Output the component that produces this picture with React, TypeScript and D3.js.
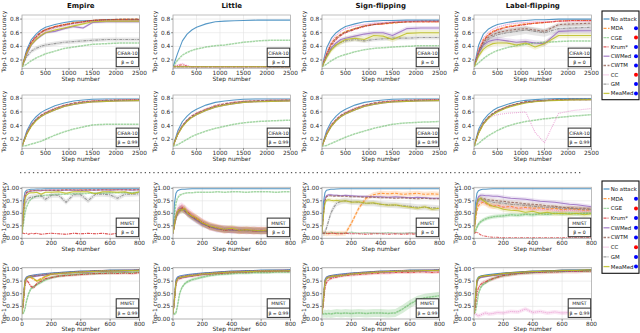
import React from 'react';
import * as d3 from 'd3';

// legend order
const seriesNames = ['No attack', 'MDA', 'CGE', 'Krum*', 'CWMed', 'CWTM', 'CC', 'GM', 'MeaMed'];
const seriesColors = ['#1f77b4', '#ff7f0e', '#2ca02c', '#d62728', '#9467bd', '#8c564b', '#e377c2', '#7f7f7f', '#bcbd22'];
const seriesDash = ['', '3,1.5', '2.5,0.5', '3,1,1,1', '', '2.5,1.5', '1,1', '3,1,1,1', ''];
const seriesOpacity = [0.75, 0.75, 0.42, 0.75, 0.8, 0.75, 0.6, 0.75, 0.85];
const legendDots = ['', 'blue', 'red', 'blue', 'blue', 'blue', 'red', 'blue', 'blue'];
const attackTitles = ['Empire', 'Little', 'Sign-flipping', 'Label-flipping'];

const cifarSteps = [0, 100, 200, 300, 400, 500, 700, 900, 1100, 1300, 1500, 1800, 2100, 2500];
const mnistSteps = [0, 10, 20, 30, 45, 60, 80, 100, 130, 160, 200, 250, 300, 350, 400, 450, 500, 550, 600, 650, 700, 750, 800];
const cifarXTicks = [0, 500, 1000, 1500, 2000, 2500];
const cifarYTicks = [0.2, 0.4, 0.6, 0.8];
const mnistXTicks = [0, 200, 400, 600, 800];
const mnistYTicks = [0, 0.25, 0.5, 0.75, 1];

// ---- CIFAR-10, beta = 0 ----
const empireCifarB0 = [
  [0.1, 0.35, 0.5, 0.58, 0.64, 0.68, 0.72, 0.75, 0.77, 0.775, 0.78, 0.79, 0.79, 0.79],
  [0.1, 0.3, 0.45, 0.53, 0.6, 0.64, 0.69, 0.72, 0.75, 0.76, 0.78, 0.79, 0.795, 0.8],
  [0.1, 0.14, 0.19, 0.23, 0.26, 0.29, 0.33, 0.37, 0.39, 0.41, 0.43, 0.44, 0.45, 0.45],
  [0.1, 0.32, 0.47, 0.55, 0.61, 0.65, 0.69, 0.72, 0.74, 0.76, 0.78, 0.79, 0.79, 0.79],
  [0.1, 0.28, 0.42, 0.5, 0.55, 0.6, 0.62, 0.66, 0.69, 0.67, 0.75, 0.76, 0.76, 0.76],
  [0.1, 0.31, 0.46, 0.54, 0.6, 0.64, 0.68, 0.71, 0.74, 0.76, 0.78, 0.79, 0.8, 0.8],
  [0.1, 0.3, 0.44, 0.53, 0.58, 0.62, 0.67, 0.7, 0.73, 0.75, 0.77, 0.78, 0.78, 0.78],
  [0.1, 0.25, 0.33, 0.37, 0.4, 0.42, 0.44, 0.46, 0.47, 0.48, 0.49, 0.5, 0.5, 0.5],
  [0.1, 0.3, 0.43, 0.5, 0.56, 0.6, 0.64, 0.67, 0.7, 0.73, 0.76, 0.77, 0.77, 0.77],
];
const littleCifarB0 = [
  [0.1, 0.3, 0.48, 0.58, 0.64, 0.68, 0.73, 0.76, 0.77, 0.775, 0.78, 0.785, 0.785, 0.785],
  [0.1, 0.1, 0.1, 0.1, 0.1, 0.1, 0.1, 0.1, 0.1, 0.1, 0.1, 0.1, 0.1, 0.1],
  [0.1, 0.2, 0.27, 0.31, 0.34, 0.36, 0.39, 0.41, 0.42, 0.44, 0.46, 0.48, 0.49, 0.49],
  [0.1, 0.12, 0.13, 0.11, 0.1, 0.1, 0.1, 0.1, 0.1, 0.1, 0.1, 0.1, 0.1, 0.1],
  [0.1, 0.1, 0.1, 0.1, 0.1, 0.1, 0.1, 0.1, 0.1, 0.1, 0.1, 0.1, 0.1, 0.1],
  [0.1, 0.1, 0.1, 0.1, 0.1, 0.1, 0.1, 0.1, 0.1, 0.1, 0.1, 0.1, 0.1, 0.1],
  [0.1, 0.13, 0.15, 0.12, 0.1, 0.1, 0.1, 0.1, 0.1, 0.1, 0.1, 0.1, 0.1, 0.1],
  [0.1, 0.1, 0.1, 0.1, 0.1, 0.1, 0.1, 0.1, 0.1, 0.1, 0.1, 0.1, 0.1, 0.1],
  [0.1, 0.1, 0.1, 0.1, 0.1, 0.1, 0.1, 0.1, 0.1, 0.1, 0.1, 0.1, 0.1, 0.1],
];
const signCifarB0 = [
  [0.1, 0.38, 0.52, 0.6, 0.65, 0.69, 0.73, 0.76, 0.77, 0.78, 0.78, 0.785, 0.785, 0.785],
  [0.1, 0.3, 0.45, 0.53, 0.58, 0.62, 0.66, 0.7, 0.72, 0.73, 0.74, 0.76, 0.76, 0.76],
  [0.1, 0.14, 0.19, 0.23, 0.26, 0.28, 0.32, 0.35, 0.37, 0.38, 0.39, 0.4, 0.41, 0.41],
  [0.1, 0.28, 0.42, 0.5, 0.56, 0.6, 0.65, 0.69, 0.72, 0.73, 0.75, 0.76, 0.76, 0.76],
  [0.1, 0.25, 0.38, 0.45, 0.5, 0.52, 0.55, 0.58, 0.6, 0.6, 0.56, 0.66, 0.67, 0.67],
  [0.1, 0.29, 0.44, 0.52, 0.57, 0.61, 0.66, 0.7, 0.72, 0.74, 0.75, 0.76, 0.77, 0.77],
  [0.1, 0.33, 0.48, 0.56, 0.62, 0.66, 0.7, 0.72, 0.74, 0.75, 0.76, 0.77, 0.77, 0.77],
  [0.1, 0.25, 0.36, 0.42, 0.46, 0.48, 0.5, 0.48, 0.5, 0.51, 0.52, 0.52, 0.53, 0.53],
  [0.1, 0.24, 0.35, 0.42, 0.46, 0.5, 0.52, 0.5, 0.56, 0.55, 0.5, 0.59, 0.6, 0.6],
];
const labelCifarB0 = [
  [0.1, 0.42, 0.58, 0.65, 0.69, 0.72, 0.75, 0.77, 0.78, 0.79, 0.79, 0.8, 0.8, 0.8],
  [0.1, 0.35, 0.5, 0.57, 0.62, 0.65, 0.69, 0.71, 0.73, 0.74, 0.75, 0.77, 0.78, 0.78],
  [0.1, 0.16, 0.22, 0.27, 0.31, 0.34, 0.38, 0.41, 0.43, 0.45, 0.46, 0.47, 0.48, 0.48],
  [0.1, 0.33, 0.48, 0.56, 0.61, 0.64, 0.68, 0.7, 0.72, 0.74, 0.75, 0.77, 0.78, 0.78],
  [0.1, 0.3, 0.42, 0.47, 0.49, 0.5, 0.48, 0.46, 0.47, 0.45, 0.44, 0.62, 0.63, 0.63],
  [0.1, 0.32, 0.46, 0.53, 0.57, 0.6, 0.63, 0.65, 0.66, 0.64, 0.62, 0.72, 0.73, 0.74],
  [0.1, 0.36, 0.52, 0.6, 0.65, 0.68, 0.72, 0.74, 0.75, 0.76, 0.76, 0.77, 0.77, 0.77],
  [0.1, 0.3, 0.43, 0.5, 0.54, 0.57, 0.6, 0.62, 0.64, 0.62, 0.6, 0.66, 0.67, 0.68],
  [0.1, 0.26, 0.36, 0.41, 0.44, 0.45, 0.45, 0.42, 0.45, 0.39, 0.44, 0.56, 0.56, 0.56],
];

// ---- CIFAR-10, beta = 0.99 ----
const empireCifarB99 = [
  [0.1, 0.32, 0.45, 0.53, 0.59, 0.63, 0.69, 0.73, 0.76, 0.775, 0.785, 0.79, 0.79, 0.79],
  [0.1, 0.29, 0.41, 0.49, 0.55, 0.59, 0.65, 0.7, 0.73, 0.75, 0.76, 0.77, 0.775, 0.78],
  [0.1, 0.11, 0.13, 0.15, 0.17, 0.2, 0.26, 0.31, 0.35, 0.38, 0.41, 0.42, 0.42, 0.42],
  [0.1, 0.28, 0.4, 0.48, 0.54, 0.58, 0.64, 0.69, 0.72, 0.74, 0.755, 0.765, 0.77, 0.775],
  [0.1, 0.28, 0.4, 0.48, 0.53, 0.57, 0.63, 0.68, 0.71, 0.73, 0.745, 0.755, 0.76, 0.765],
  [0.1, 0.29, 0.41, 0.49, 0.55, 0.59, 0.65, 0.7, 0.73, 0.75, 0.76, 0.77, 0.775, 0.78],
  [0.1, 0.29, 0.42, 0.5, 0.56, 0.6, 0.66, 0.7, 0.73, 0.75, 0.765, 0.775, 0.78, 0.78],
  [0.1, 0.28, 0.41, 0.49, 0.54, 0.58, 0.64, 0.69, 0.72, 0.74, 0.755, 0.765, 0.77, 0.77],
  [0.1, 0.27, 0.39, 0.47, 0.53, 0.57, 0.63, 0.68, 0.71, 0.73, 0.745, 0.755, 0.76, 0.765],
];
const littleCifarB99 = [
  [0.1, 0.32, 0.46, 0.54, 0.6, 0.64, 0.7, 0.74, 0.76, 0.775, 0.785, 0.79, 0.79, 0.79],
  [0.1, 0.28, 0.4, 0.48, 0.54, 0.58, 0.64, 0.69, 0.72, 0.74, 0.755, 0.765, 0.77, 0.775],
  [0.1, 0.12, 0.16, 0.2, 0.24, 0.27, 0.32, 0.36, 0.39, 0.42, 0.44, 0.46, 0.47, 0.48],
  [0.1, 0.27, 0.39, 0.47, 0.53, 0.57, 0.63, 0.68, 0.71, 0.73, 0.745, 0.755, 0.76, 0.765],
  [0.1, 0.27, 0.39, 0.47, 0.52, 0.56, 0.62, 0.67, 0.7, 0.72, 0.74, 0.75, 0.755, 0.76],
  [0.1, 0.28, 0.4, 0.48, 0.54, 0.58, 0.64, 0.69, 0.72, 0.74, 0.755, 0.765, 0.77, 0.775],
  [0.1, 0.29, 0.41, 0.49, 0.55, 0.59, 0.65, 0.7, 0.73, 0.75, 0.76, 0.77, 0.775, 0.78],
  [0.1, 0.28, 0.4, 0.48, 0.53, 0.57, 0.63, 0.68, 0.71, 0.73, 0.75, 0.76, 0.765, 0.77],
  [0.1, 0.27, 0.38, 0.46, 0.52, 0.56, 0.62, 0.67, 0.7, 0.72, 0.74, 0.75, 0.755, 0.76],
];
const signCifarB99 = [
  [0.1, 0.33, 0.46, 0.54, 0.6, 0.64, 0.7, 0.74, 0.76, 0.775, 0.785, 0.79, 0.79, 0.79],
  [0.1, 0.29, 0.41, 0.49, 0.55, 0.59, 0.65, 0.7, 0.73, 0.75, 0.76, 0.77, 0.775, 0.78],
  [0.1, 0.11, 0.14, 0.17, 0.2, 0.23, 0.28, 0.32, 0.36, 0.39, 0.42, 0.44, 0.45, 0.46],
  [0.1, 0.28, 0.4, 0.48, 0.54, 0.58, 0.64, 0.69, 0.72, 0.74, 0.755, 0.765, 0.77, 0.775],
  [0.1, 0.27, 0.39, 0.47, 0.53, 0.57, 0.63, 0.68, 0.71, 0.73, 0.745, 0.755, 0.76, 0.765],
  [0.1, 0.29, 0.41, 0.49, 0.55, 0.59, 0.65, 0.7, 0.73, 0.75, 0.76, 0.77, 0.775, 0.78],
  [0.1, 0.3, 0.42, 0.5, 0.56, 0.6, 0.66, 0.7, 0.73, 0.75, 0.765, 0.775, 0.78, 0.78],
  [0.1, 0.28, 0.4, 0.48, 0.54, 0.58, 0.64, 0.69, 0.72, 0.74, 0.75, 0.76, 0.77, 0.77],
  [0.1, 0.27, 0.39, 0.47, 0.53, 0.57, 0.63, 0.68, 0.71, 0.73, 0.745, 0.755, 0.76, 0.765],
];
const labelCifarB99 = [
  [0.1, 0.35, 0.48, 0.56, 0.62, 0.66, 0.71, 0.75, 0.77, 0.78, 0.79, 0.795, 0.795, 0.795],
  [0.1, 0.31, 0.44, 0.52, 0.58, 0.62, 0.68, 0.72, 0.75, 0.76, 0.77, 0.78, 0.785, 0.785],
  [0.1, 0.14, 0.2, 0.25, 0.29, 0.33, 0.39, 0.43, 0.46, 0.48, 0.5, 0.52, 0.54, 0.56],
  [0.1, 0.3, 0.43, 0.51, 0.57, 0.61, 0.67, 0.71, 0.74, 0.755, 0.765, 0.775, 0.78, 0.78],
  [0.1, 0.3, 0.43, 0.51, 0.57, 0.61, 0.67, 0.71, 0.74, 0.755, 0.765, 0.775, 0.78, 0.78],
  [0.1, 0.31, 0.44, 0.52, 0.58, 0.62, 0.68, 0.72, 0.75, 0.76, 0.77, 0.78, 0.785, 0.785],
  [0.1, 0.3, 0.42, 0.5, 0.54, 0.56, 0.58, 0.59, 0.6, 0.3, 0.15, 0.58, 0.62, 0.65],
  [0.1, 0.3, 0.43, 0.51, 0.57, 0.61, 0.67, 0.71, 0.74, 0.755, 0.765, 0.775, 0.78, 0.78],
  [0.1, 0.29, 0.42, 0.5, 0.56, 0.6, 0.66, 0.7, 0.73, 0.75, 0.76, 0.77, 0.775, 0.78],
];

// ---- MNIST, beta = 0 ----
const empireMnistB0 = [
  [0.1, 0.75, 0.92, 0.96, 0.97, 0.98, 0.98, 0.985, 0.985, 0.99, 0.99, 0.99, 0.99, 0.99, 0.99, 0.99, 0.99, 0.99, 0.99, 0.99, 0.99, 0.99, 0.99],
  [0.1, 0.6, 0.85, 0.92, 0.94, 0.95, 0.95, 0.96, 0.95, 0.96, 0.96, 0.96, 0.97, 0.96, 0.97, 0.97, 0.96, 0.97, 0.97, 0.97, 0.97, 0.97, 0.97],
  [0.1, 0.3, 0.5, 0.62, 0.72, 0.78, 0.82, 0.84, 0.85, 0.86, 0.87, 0.88, 0.88, 0.89, 0.89, 0.9, 0.9, 0.9, 0.91, 0.91, 0.91, 0.91, 0.92],
  [0.1, 0.1, 0.09, 0.1, 0.08, 0.1, 0.09, 0.1, 0.08, 0.09, 0.1, 0.09, 0.08, 0.1, 0.09, 0.1, 0.09, 0.1, 0.08, 0.1, 0.09, 0.08, 0.09],
  [0.1, 0.55, 0.82, 0.9, 0.93, 0.94, 0.95, 0.95, 0.95, 0.96, 0.96, 0.96, 0.96, 0.96, 0.96, 0.96, 0.96, 0.97, 0.96, 0.97, 0.97, 0.96, 0.97],
  [0.1, 0.58, 0.84, 0.91, 0.94, 0.95, 0.95, 0.96, 0.96, 0.96, 0.96, 0.96, 0.97, 0.97, 0.96, 0.97, 0.97, 0.97, 0.97, 0.97, 0.97, 0.97, 0.97],
  [0.1, 0.62, 0.86, 0.92, 0.94, 0.95, 0.96, 0.96, 0.96, 0.96, 0.97, 0.97, 0.97, 0.97, 0.97, 0.97, 0.97, 0.97, 0.97, 0.97, 0.97, 0.97, 0.97],
  [0.1, 0.4, 0.65, 0.76, 0.8, 0.82, 0.83, 0.84, 0.85, 0.78, 0.86, 0.86, 0.72, 0.87, 0.87, 0.75, 0.88, 0.88, 0.87, 0.8, 0.88, 0.88, 0.89],
  [0.1, 0.5, 0.78, 0.86, 0.9, 0.91, 0.91, 0.92, 0.88, 0.92, 0.92, 0.93, 0.9, 0.93, 0.93, 0.93, 0.89, 0.93, 0.93, 0.92, 0.93, 0.89, 0.93],
];
const littleMnistB0 = [
  [0.1, 0.7, 0.9, 0.95, 0.97, 0.98, 0.98, 0.985, 0.99, 0.99, 0.99, 0.99, 0.99, 0.99, 0.99, 0.99, 0.99, 0.99, 0.99, 0.99, 0.99, 0.99, 0.99],
  [0.1, 0.3, 0.45, 0.52, 0.58, 0.6, 0.55, 0.5, 0.46, 0.38, 0.3, 0.25, 0.2, 0.18, 0.17, 0.16, 0.15, 0.16, 0.15, 0.14, 0.15, 0.16, 0.15],
  [0.1, 0.45, 0.7, 0.8, 0.86, 0.88, 0.9, 0.91, 0.91, 0.92, 0.92, 0.92, 0.93, 0.92, 0.93, 0.93, 0.92, 0.93, 0.93, 0.93, 0.92, 0.93, 0.93],
  [0.1, 0.25, 0.4, 0.5, 0.55, 0.62, 0.58, 0.52, 0.44, 0.4, 0.32, 0.22, 0.2, 0.16, 0.18, 0.15, 0.17, 0.14, 0.16, 0.15, 0.14, 0.15, 0.16],
  [0.1, 0.28, 0.42, 0.5, 0.6, 0.58, 0.56, 0.48, 0.42, 0.36, 0.28, 0.24, 0.18, 0.19, 0.16, 0.17, 0.15, 0.16, 0.14, 0.16, 0.15, 0.14, 0.15],
  [0.1, 0.3, 0.44, 0.55, 0.57, 0.6, 0.54, 0.5, 0.43, 0.37, 0.3, 0.23, 0.21, 0.17, 0.17, 0.16, 0.16, 0.15, 0.15, 0.15, 0.16, 0.15, 0.15],
  [0.1, 0.32, 0.48, 0.58, 0.63, 0.65, 0.6, 0.55, 0.48, 0.4, 0.33, 0.26, 0.22, 0.19, 0.18, 0.17, 0.16, 0.17, 0.16, 0.16, 0.15, 0.16, 0.16],
  [0.1, 0.26, 0.4, 0.48, 0.54, 0.57, 0.55, 0.49, 0.42, 0.36, 0.29, 0.23, 0.19, 0.17, 0.16, 0.16, 0.15, 0.15, 0.14, 0.15, 0.15, 0.15, 0.14],
  [0.1, 0.27, 0.43, 0.53, 0.58, 0.56, 0.6, 0.5, 0.44, 0.41, 0.31, 0.25, 0.21, 0.18, 0.2, 0.16, 0.17, 0.16, 0.15, 0.17, 0.16, 0.15, 0.16],
];
const signMnistB0 = [
  [0.1, 0.72, 0.91, 0.96, 0.97, 0.98, 0.98, 0.985, 0.99, 0.99, 0.99, 0.99, 0.99, 0.99, 0.99, 0.99, 0.99, 0.99, 0.99, 0.99, 0.99, 0.99, 0.99],
  [0.1, 0.1, 0.1, 0.09, 0.1, 0.1, 0.1, 0.09, 0.1, 0.1, 0.3, 0.6, 0.8, 0.87, 0.9, 0.89, 0.9, 0.88, 0.89, 0.9, 0.88, 0.89, 0.88],
  [0.1, 0.1, 0.11, 0.1, 0.1, 0.12, 0.1, 0.11, 0.1, 0.1, 0.12, 0.1, 0.11, 0.1, 0.1, 0.11, 0.1, 0.1, 0.11, 0.1, 0.1, 0.11, 0.1],
  [0.1, 0.1, 0.1, 0.1, 0.09, 0.1, 0.1, 0.09, 0.09, 0.1, 0.09, 0.09, 0.08, 0.09, 0.09, 0.08, 0.09, 0.08, 0.09, 0.08, 0.08, 0.09, 0.08],
  [0.1, 0.5, 0.78, 0.85, 0.87, 0.87, 0.86, 0.86, 0.85, 0.86, 0.85, 0.84, 0.84, 0.83, 0.83, 0.82, 0.83, 0.82, 0.81, 0.82, 0.81, 0.8, 0.8],
  [0.1, 0.48, 0.75, 0.83, 0.85, 0.85, 0.84, 0.85, 0.84, 0.84, 0.83, 0.83, 0.82, 0.82, 0.81, 0.81, 0.8, 0.81, 0.8, 0.79, 0.8, 0.79, 0.79],
  [0.1, 0.1, 0.12, 0.11, 0.1, 0.1, 0.11, 0.1, 0.1, 0.11, 0.1, 0.1, 0.1, 0.11, 0.1, 0.1, 0.1, 0.1, 0.11, 0.1, 0.1, 0.1, 0.1],
  [0.1, 0.1, 0.12, 0.2, 0.35, 0.5, 0.62, 0.7, 0.74, 0.75, 0.73, 0.72, 0.7, 0.7, 0.68, 0.67, 0.66, 0.65, 0.64, 0.62, 0.62, 0.61, 0.6],
  [0.1, 0.45, 0.7, 0.76, 0.77, 0.76, 0.75, 0.76, 0.74, 0.75, 0.72, 0.73, 0.7, 0.71, 0.68, 0.66, 0.67, 0.64, 0.62, 0.6, 0.63, 0.58, 0.6],
];
const labelMnistB0 = [
  [0.1, 0.7, 0.9, 0.95, 0.97, 0.98, 0.98, 0.985, 0.99, 0.99, 0.99, 0.99, 0.99, 0.99, 0.99, 0.99, 0.99, 0.99, 0.99, 0.99, 0.99, 0.99, 0.99],
  [0.1, 0.35, 0.55, 0.65, 0.7, 0.72, 0.7, 0.66, 0.64, 0.66, 0.62, 0.64, 0.6, 0.62, 0.6, 0.61, 0.58, 0.6, 0.57, 0.59, 0.58, 0.56, 0.57],
  [0.1, 0.15, 0.22, 0.28, 0.33, 0.36, 0.39, 0.41, 0.43, 0.44, 0.45, 0.47, 0.46, 0.48, 0.47, 0.49, 0.48, 0.5, 0.49, 0.5, 0.49, 0.5, 0.5],
  [0.1, 0.11, 0.13, 0.1, 0.07, 0.05, 0.04, 0.03, 0.02, 0.02, 0.01, 0.01, 0.01, 0.01, 0.01, 0.01, 0.01, 0.01, 0.01, 0.01, 0.01, 0.01, 0.01],
  [0.1, 0.5, 0.75, 0.83, 0.86, 0.86, 0.85, 0.85, 0.84, 0.84, 0.82, 0.8, 0.79, 0.78, 0.76, 0.74, 0.73, 0.72, 0.7, 0.68, 0.67, 0.65, 0.63],
  [0.1, 0.45, 0.7, 0.78, 0.8, 0.8, 0.78, 0.77, 0.76, 0.75, 0.74, 0.72, 0.71, 0.69, 0.68, 0.67, 0.65, 0.64, 0.62, 0.61, 0.6, 0.6, 0.58],
  [0.1, 0.4, 0.62, 0.7, 0.74, 0.73, 0.7, 0.68, 0.66, 0.65, 0.63, 0.62, 0.6, 0.6, 0.58, 0.57, 0.58, 0.56, 0.55, 0.56, 0.55, 0.54, 0.55],
  [0.1, 0.45, 0.68, 0.76, 0.78, 0.77, 0.75, 0.74, 0.72, 0.71, 0.7, 0.68, 0.67, 0.66, 0.64, 0.63, 0.62, 0.62, 0.6, 0.6, 0.59, 0.58, 0.58],
  [0.1, 0.42, 0.7, 0.78, 0.8, 0.76, 0.72, 0.68, 0.64, 0.62, 0.58, 0.56, 0.55, 0.52, 0.54, 0.5, 0.52, 0.49, 0.5, 0.48, 0.5, 0.47, 0.49],
];

// ---- MNIST, beta = 0.99 ----
const empireMnistB99 = [
  [0.1, 0.45, 0.78, 0.83, 0.85, 0.86, 0.87, 0.88, 0.89, 0.9, 0.91, 0.92, 0.93, 0.94, 0.95, 0.95, 0.96, 0.96, 0.97, 0.97, 0.97, 0.97, 0.98],
  [0.1, 0.4, 0.74, 0.81, 0.83, 0.82, 0.78, 0.76, 0.8, 0.85, 0.88, 0.9, 0.91, 0.92, 0.93, 0.94, 0.95, 0.95, 0.96, 0.96, 0.96, 0.96, 0.97],
  [0.1, 0.12, 0.2, 0.35, 0.5, 0.6, 0.64, 0.68, 0.73, 0.78, 0.82, 0.85, 0.87, 0.88, 0.89, 0.9, 0.9, 0.91, 0.91, 0.92, 0.92, 0.92, 0.93],
  [0.1, 0.3, 0.65, 0.78, 0.72, 0.65, 0.62, 0.7, 0.75, 0.8, 0.82, 0.85, 0.86, 0.87, 0.88, 0.89, 0.9, 0.9, 0.91, 0.9, 0.91, 0.9, 0.92],
  [0.1, 0.38, 0.72, 0.8, 0.82, 0.83, 0.84, 0.85, 0.86, 0.87, 0.89, 0.9, 0.91, 0.92, 0.93, 0.93, 0.94, 0.94, 0.95, 0.95, 0.95, 0.96, 0.96],
  [0.1, 0.41, 0.75, 0.81, 0.84, 0.85, 0.86, 0.86, 0.87, 0.88, 0.9, 0.91, 0.92, 0.93, 0.94, 0.94, 0.95, 0.95, 0.96, 0.96, 0.96, 0.96, 0.97],
  [0.1, 0.42, 0.76, 0.82, 0.84, 0.85, 0.86, 0.87, 0.88, 0.89, 0.9, 0.91, 0.92, 0.93, 0.94, 0.95, 0.95, 0.96, 0.96, 0.96, 0.97, 0.97, 0.97],
  [0.1, 0.4, 0.74, 0.81, 0.83, 0.84, 0.85, 0.86, 0.87, 0.88, 0.89, 0.91, 0.92, 0.93, 0.93, 0.94, 0.95, 0.95, 0.95, 0.96, 0.96, 0.96, 0.97],
  [0.1, 0.39, 0.73, 0.8, 0.83, 0.84, 0.8, 0.75, 0.78, 0.84, 0.89, 0.9, 0.91, 0.92, 0.93, 0.94, 0.94, 0.95, 0.95, 0.95, 0.96, 0.96, 0.96],
];
const littleMnistB99 = [
  [0.1, 0.45, 0.78, 0.83, 0.85, 0.86, 0.87, 0.88, 0.89, 0.9, 0.91, 0.92, 0.93, 0.94, 0.95, 0.95, 0.96, 0.96, 0.97, 0.97, 0.97, 0.97, 0.98],
  [0.1, 0.4, 0.72, 0.8, 0.82, 0.83, 0.84, 0.85, 0.86, 0.87, 0.89, 0.9, 0.91, 0.92, 0.93, 0.94, 0.94, 0.95, 0.95, 0.95, 0.95, 0.96, 0.96],
  [0.1, 0.1, 0.12, 0.25, 0.5, 0.62, 0.7, 0.74, 0.78, 0.8, 0.83, 0.86, 0.88, 0.89, 0.9, 0.91, 0.91, 0.92, 0.92, 0.92, 0.93, 0.93, 0.93],
  [0.1, 0.35, 0.68, 0.77, 0.8, 0.81, 0.83, 0.84, 0.85, 0.86, 0.88, 0.89, 0.9, 0.91, 0.92, 0.93, 0.93, 0.94, 0.94, 0.94, 0.95, 0.95, 0.95],
  [0.1, 0.38, 0.7, 0.79, 0.81, 0.82, 0.83, 0.84, 0.85, 0.87, 0.88, 0.9, 0.91, 0.92, 0.93, 0.93, 0.94, 0.94, 0.95, 0.95, 0.95, 0.95, 0.96],
  [0.1, 0.41, 0.74, 0.81, 0.83, 0.84, 0.85, 0.86, 0.87, 0.88, 0.9, 0.91, 0.92, 0.93, 0.94, 0.94, 0.95, 0.95, 0.95, 0.96, 0.96, 0.96, 0.96],
  [0.1, 0.42, 0.75, 0.82, 0.84, 0.85, 0.86, 0.87, 0.88, 0.89, 0.9, 0.91, 0.92, 0.93, 0.94, 0.95, 0.95, 0.95, 0.96, 0.96, 0.96, 0.97, 0.97],
  [0.1, 0.4, 0.73, 0.8, 0.82, 0.83, 0.84, 0.86, 0.87, 0.88, 0.89, 0.9, 0.92, 0.93, 0.93, 0.94, 0.94, 0.95, 0.95, 0.96, 0.96, 0.96, 0.96],
  [0.1, 0.39, 0.71, 0.79, 0.82, 0.83, 0.84, 0.85, 0.86, 0.87, 0.89, 0.9, 0.91, 0.92, 0.93, 0.93, 0.94, 0.94, 0.95, 0.95, 0.95, 0.95, 0.96],
];
const signMnistB99 = [
  [0.1, 0.45, 0.78, 0.83, 0.85, 0.86, 0.87, 0.88, 0.89, 0.9, 0.91, 0.92, 0.93, 0.94, 0.95, 0.95, 0.96, 0.96, 0.97, 0.97, 0.97, 0.97, 0.98],
  [0.1, 0.41, 0.74, 0.81, 0.83, 0.84, 0.85, 0.86, 0.87, 0.88, 0.9, 0.91, 0.92, 0.93, 0.94, 0.94, 0.95, 0.95, 0.96, 0.96, 0.96, 0.96, 0.97],
  [0.1, 0.1, 0.11, 0.1, 0.11, 0.1, 0.11, 0.12, 0.11, 0.12, 0.11, 0.12, 0.11, 0.12, 0.12, 0.11, 0.12, 0.2, 0.3, 0.38, 0.42, 0.44, 0.46],
  [0.1, 0.3, 0.6, 0.72, 0.78, 0.8, 0.82, 0.83, 0.85, 0.86, 0.87, 0.88, 0.89, 0.9, 0.91, 0.91, 0.92, 0.92, 0.92, 0.93, 0.93, 0.92, 0.93],
  [0.1, 0.38, 0.71, 0.8, 0.82, 0.83, 0.84, 0.85, 0.86, 0.87, 0.89, 0.9, 0.91, 0.92, 0.93, 0.93, 0.94, 0.94, 0.95, 0.95, 0.95, 0.96, 0.96],
  [0.1, 0.41, 0.75, 0.81, 0.84, 0.85, 0.86, 0.86, 0.87, 0.88, 0.9, 0.91, 0.92, 0.93, 0.94, 0.94, 0.95, 0.95, 0.96, 0.96, 0.96, 0.96, 0.97],
  [0.1, 0.42, 0.76, 0.82, 0.84, 0.85, 0.86, 0.87, 0.88, 0.89, 0.9, 0.91, 0.92, 0.93, 0.94, 0.95, 0.95, 0.96, 0.96, 0.96, 0.97, 0.97, 0.97],
  [0.1, 0.4, 0.73, 0.8, 0.83, 0.84, 0.85, 0.86, 0.87, 0.88, 0.89, 0.91, 0.92, 0.93, 0.93, 0.94, 0.95, 0.95, 0.95, 0.96, 0.96, 0.96, 0.97],
  [0.1, 0.39, 0.72, 0.8, 0.82, 0.84, 0.85, 0.85, 0.86, 0.87, 0.89, 0.9, 0.91, 0.92, 0.93, 0.94, 0.94, 0.95, 0.95, 0.95, 0.96, 0.96, 0.96],
];
const labelMnistB99 = [
  [0.1, 0.45, 0.78, 0.83, 0.85, 0.86, 0.87, 0.88, 0.89, 0.9, 0.91, 0.92, 0.93, 0.94, 0.95, 0.95, 0.96, 0.96, 0.97, 0.97, 0.97, 0.97, 0.98],
  [0.1, 0.4, 0.73, 0.8, 0.83, 0.84, 0.85, 0.86, 0.87, 0.88, 0.9, 0.91, 0.92, 0.93, 0.94, 0.94, 0.95, 0.95, 0.96, 0.96, 0.96, 0.96, 0.97],
  [0.1, 0.15, 0.3, 0.5, 0.62, 0.68, 0.72, 0.76, 0.8, 0.83, 0.86, 0.88, 0.9, 0.91, 0.92, 0.93, 0.93, 0.94, 0.94, 0.95, 0.95, 0.95, 0.95],
  [0.1, 0.25, 0.5, 0.62, 0.68, 0.72, 0.74, 0.77, 0.8, 0.83, 0.86, 0.88, 0.9, 0.91, 0.92, 0.92, 0.93, 0.93, 0.94, 0.94, 0.94, 0.95, 0.95],
  [0.1, 0.38, 0.71, 0.79, 0.82, 0.83, 0.84, 0.85, 0.86, 0.87, 0.89, 0.9, 0.91, 0.92, 0.93, 0.93, 0.94, 0.94, 0.95, 0.95, 0.95, 0.96, 0.96],
  [0.1, 0.41, 0.75, 0.81, 0.84, 0.85, 0.86, 0.86, 0.87, 0.88, 0.9, 0.91, 0.92, 0.93, 0.94, 0.94, 0.95, 0.95, 0.96, 0.96, 0.96, 0.96, 0.97],
  [0.1, 0.1, 0.08, 0.06, 0.08, 0.1, 0.12, 0.1, 0.11, 0.13, 0.12, 0.15, 0.14, 0.2, 0.13, 0.15, 0.12, 0.14, 0.12, 0.13, 0.11, 0.12, 0.12],
  [0.1, 0.4, 0.73, 0.8, 0.83, 0.84, 0.85, 0.86, 0.87, 0.88, 0.89, 0.91, 0.92, 0.93, 0.93, 0.94, 0.95, 0.95, 0.95, 0.96, 0.96, 0.96, 0.97],
  [0.1, 0.42, 0.76, 0.82, 0.84, 0.85, 0.86, 0.86, 0.87, 0.88, 0.9, 0.91, 0.92, 0.93, 0.94, 0.94, 0.95, 0.95, 0.96, 0.96, 0.96, 0.97, 0.97],
];

// shaded std bands (half widths), one entry per series; 0 = none
const noBands = [0, 0, 0, 0, 0, 0, 0, 0, 0];
const labelCifarB0Bands = [0, 0.01, 0, 0.01, 0.04, 0.03, 0.01, 0.06, 0.04];
const signCifarB0Bands = [0, 0.01, 0, 0.01, 0.03, 0.01, 0.01, 0.03, 0.04];
const empireCifarB0Bands = [0, 0.01, 0, 0.01, 0.02, 0.01, 0.01, 0.03, 0.02];
const empireMnistB0Bands = [0, 0, 0, 0.01, 0, 0, 0, 0.05, 0.02];
const littleMnistB0Bands = [0, 0.07, 0, 0.07, 0.07, 0.06, 0.07, 0.06, 0.07];
const signMnistB0Bands = [0, 0.05, 0, 0, 0.02, 0.02, 0, 0.06, 0.04];
const labelMnistB0Bands = [0, 0.06, 0.04, 0, 0.04, 0.04, 0.04, 0.04, 0.05];
const mnistB99Bands = [0, 0.02, 0.03, 0.03, 0.02, 0.02, 0.02, 0.02, 0.02];
const signMnistB99Bands = [0, 0.02, 0.08, 0.03, 0.02, 0.02, 0.02, 0.02, 0.02];
const labelMnistB99Bands = [0, 0.02, 0.03, 0.04, 0.02, 0.02, 0.04, 0.02, 0.02];

const colLeft = [22, 173, 322, 474];
const PLOT_W = 117.5;
const rowTop = [15, 95, 187.3, 267.5];
const rowBottom = [68.3, 148.3, 238.3, 319];

const FONT = 'DejaVu Sans, Liberation Sans, sans-serif';

type PanelProps = {
  id: string;
  left: number;
  top: number;
  bottom: number;
  steps: number[];
  xMax: number;
  yDomain: [number, number];
  xTicks: number[];
  yTicks: number[];
  yFmt: (v: number) => string;
  lines: number[][];
  bands: number[];
  dataset: string;
  beta: string;
};

function Panel(p: PanelProps) {
  const x = d3.scaleLinear().domain([0, p.xMax]).range([p.left, p.left + PLOT_W]);
  const y = d3.scaleLinear().domain(p.yDomain).range([p.bottom, p.top]);
  const line = d3.line<number>().x((_, i) => x(p.steps[i])).y((d) => y(d));
  const right = p.left + PLOT_W;
  const mid = (p.top + p.bottom) / 2;
  const boxW = 22.5;
  const boxH = 9.3;
  const boxBottom = p.bottom - 1.6;

  return (
    <g>
      <defs>
        <clipPath id={p.id}>
          <rect x={p.left} y={p.top} width={PLOT_W} height={p.bottom - p.top} />
        </clipPath>
      </defs>
      <rect x={p.left} y={p.top} width={PLOT_W} height={p.bottom - p.top} fill="#fff" />
      {/* grid */}
      {p.xTicks.map((t) => (
        <line key={'gx' + t} x1={x(t)} x2={x(t)} y1={p.top} y2={p.bottom} stroke="#e3e3e3" strokeWidth={0.6} />
      ))}
      {p.yTicks.map((t) => (
        <line key={'gy' + t} x1={p.left} x2={right} y1={y(t)} y2={y(t)} stroke="#e3e3e3" strokeWidth={0.6} />
      ))}
      <g clipPath={`url(#${p.id})`}>
        {p.lines.map((vals, s) => {
          const bw = p.bands[s];
          if (!bw) return null;
          const area = d3
            .area<number>()
            .x((_, i) => x(p.steps[i]))
            .y0((d, i) => y(i === 0 ? d : d - bw))
            .y1((d, i) => y(i === 0 ? d : d + bw));
          return <path key={'b' + s} d={area(vals) || ''} fill={seriesColors[s]} opacity={0.18} />;
        })}
        {p.lines.map((vals, s) => (
          <path
            key={'l' + s}
            d={line(vals) || ''}
            fill="none"
            stroke={seriesColors[s]}
            strokeOpacity={seriesOpacity[s]}
            strokeWidth={s === 2 ? 1.5 : 1.1}
            strokeDasharray={seriesDash[s] || undefined}
            strokeLinejoin="round"
          />
        ))}
      </g>
      <rect x={p.left} y={p.top} width={PLOT_W} height={p.bottom - p.top} fill="none" stroke="#b0b0b0" strokeWidth={0.8} />
      {/* ticks */}
      {p.xTicks.map((t) => (
        <g key={'tx' + t}>
          <line x1={x(t)} x2={x(t)} y1={p.bottom} y2={p.bottom + 2} stroke="#444" strokeWidth={0.6} />
          <text x={x(t)} y={p.bottom + 6.7} fontSize={5.8} textAnchor="middle" fill="#262626" fontFamily={FONT}>
            {t}
          </text>
        </g>
      ))}
      {p.yTicks.map((t) => (
        <g key={'ty' + t}>
          <line x1={p.left - 2} x2={p.left} y1={y(t)} y2={y(t)} stroke="#444" strokeWidth={0.6} />
          <text x={p.left - 2.8} y={y(t) + 2.1} fontSize={5.8} textAnchor="end" fill="#262626" fontFamily={FONT}>
            {p.yFmt(t)}
          </text>
        </g>
      ))}
      <text x={p.left + PLOT_W / 2} y={p.bottom + 12.4} fontSize={5.9} textAnchor="middle" fill="#262626" fontFamily={FONT}>
        Step number
      </text>
      <text
        transform={`translate(${p.left - 15.8},${mid}) rotate(-90)`}
        fontSize={5.9}
        textAnchor="middle"
        fill="#262626"
        fontFamily={FONT}
      >
        Top-1 cross-accuracy
      </text>
      {/* dataset / beta box */}
      <rect x={right - boxW - 0.8} y={boxBottom - 2 * boxH} width={boxW} height={2 * boxH} fill="#fff" stroke="#2a2a2a" strokeWidth={1} />
      <line x1={right - boxW - 0.8} x2={right - 0.8} y1={boxBottom - boxH} y2={boxBottom - boxH} stroke="#2a2a2a" strokeWidth={1} />
      <text x={right - boxW / 2 - 0.8} y={boxBottom - boxH - 2.9} fontSize={4.6} textAnchor="middle" fill="#111" fontFamily={FONT}>
        {p.dataset}
      </text>
      <text x={right - boxW / 2 - 0.8} y={boxBottom - 2.9} fontSize={4.6} textAnchor="middle" fill="#111" fontFamily={FONT}>
        {p.beta}
      </text>
    </g>
  );
}

function Legend({ top, step }: { top: number; step: number }) {
  const left = 602;
  return (
    <g>
      <rect x={left} y={top} width={37} height={step * 9 + 5} fill="#fff" stroke="#111" strokeWidth={1.1} />
      {seriesNames.map((name, i) => {
        const cy = top + 8 + i * step;
        return (
          <g key={name}>
            <line
              x1={left + 1.5}
              x2={left + 7.5}
              y1={cy}
              y2={cy}
              stroke={seriesColors[i]}
              strokeOpacity={seriesOpacity[i]}
              strokeWidth={1.3}
              strokeDasharray={seriesDash[i] || undefined}
            />
            <text x={left + 8.8} y={cy + 1.9} fontSize={5.4} fill="#111" fontFamily={FONT}>
              {name}
            </text>
            {legendDots[i] && <circle cx={left + 34} cy={cy} r={2} fill={legendDots[i]} />}
          </g>
        );
      })}
    </g>
  );
}

const fmt1 = d3.format('.1f');
const fmt2 = d3.format('.2f');

export default function App() {
  const cifarRows = [
    { lines: [empireCifarB0, littleCifarB0, signCifarB0, labelCifarB0], bands: [empireCifarB0Bands, noBands, signCifarB0Bands, labelCifarB0Bands], beta: 'β = 0', dom: [0.078, 0.86] as [number, number] },
    { lines: [empireCifarB99, littleCifarB99, signCifarB99, labelCifarB99], bands: [noBands, noBands, noBands, noBands], beta: 'β = 0.99', dom: [0.068, 0.848] as [number, number] },
  ];
  const mnistRows = [
    { lines: [empireMnistB0, littleMnistB0, signMnistB0, labelMnistB0], bands: [empireMnistB0Bands, littleMnistB0Bands, signMnistB0Bands, labelMnistB0Bands], beta: 'β = 0' },
    { lines: [empireMnistB99, littleMnistB99, signMnistB99, labelMnistB99], bands: [mnistB99Bands, mnistB99Bands, signMnistB99Bands, labelMnistB99Bands], beta: 'β = 0.99' },
  ];

  return (
    <svg width={640} height={333} style={{ position: 'absolute', left: 0, top: 0, background: '#fff' }} fontFamily={FONT}>
      <rect width={640} height={333} fill="#fff" />
      {attackTitles.map((t, c) => (
        <text key={t} x={colLeft[c] + PLOT_W / 2} y={8.3} fontSize={7} fontWeight="bold" textAnchor="middle" fill="#111">
          {t}
        </text>
      ))}
      {cifarRows.map((row, r) =>
        row.lines.map((lines, c) => (
          <Panel
            key={`c${r}${c}`}
            id={`clip-c${r}${c}`}
            left={colLeft[c]}
            top={rowTop[r]}
            bottom={rowBottom[r]}
            steps={cifarSteps}
            xMax={2500}
            yDomain={row.dom}
            xTicks={cifarXTicks}
            yTicks={cifarYTicks}
            yFmt={fmt1}
            lines={lines}
            bands={row.bands[c]}
            dataset="CIFAR-10"
            beta={row.beta}
          />
        ))
      )}
      {mnistRows.map((row, r) =>
        row.lines.map((lines, c) => (
          <Panel
            key={`m${r}${c}`}
            id={`clip-m${r}${c}`}
            left={colLeft[c]}
            top={rowTop[r + 2]}
            bottom={rowBottom[r + 2]}
            steps={mnistSteps}
            xMax={800}
            yDomain={[0, 1.02]}
            xTicks={mnistXTicks}
            yTicks={mnistYTicks}
            yFmt={fmt2}
            lines={lines}
            bands={row.bands[c]}
            dataset="MNIST"
            beta={row.beta}
          />
        ))
      )}
      <line x1={20} x2={582} y1={172.7} y2={172.7} stroke="#333" strokeWidth={1} strokeDasharray="1.3,3" />
      <Legend top={11} step={9.3} />
      <Legend top={181} step={9.7} />
    </svg>
  );
}
